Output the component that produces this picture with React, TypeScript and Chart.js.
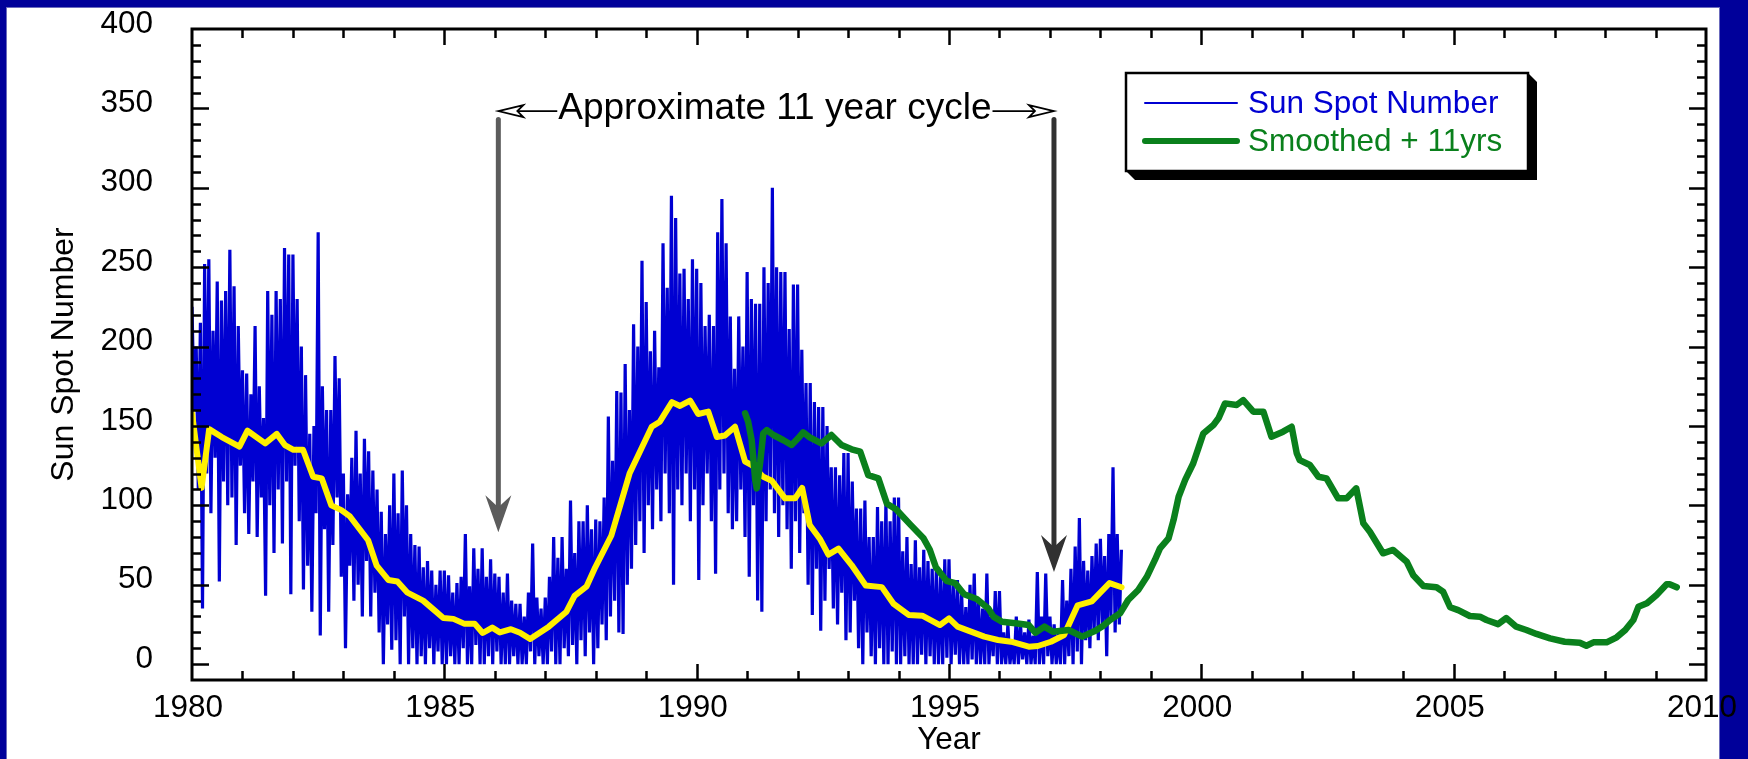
import React, { useEffect, useRef } from 'react';
import { Chart, registerables } from 'chart.js';

Chart.register(...registerables);

const FONT = '"Liberation Sans", Arial, Helvetica, sans-serif';

// ---- axes ----
const xTickYears = [1980, 1985, 1990, 1995, 2000, 2005, 2010];
const yTickValues = [0, 50, 100, 150, 200, 250, 300, 350, 400];

// ---- daily-ish sun spot number (24 samples per year, from 1980.0) ----
const sunSpotStartYear = 1980;
const sunSpotSamplesPerYear = 24;
const sunSpotValues = [
  225, 160, 200, 110, 215, 35, // 1980.00
  252, 120, 255, 95, 210, 130, // 1980.25
  241, 52, 229, 115, 235, 100, // 1980.50
  261, 105, 238, 75, 213, 125, // 1980.75
  185, 95, 183, 82, 170, 115, // 1981.00
  213, 80, 175, 105, 155, 43, // 1981.25
  235, 100, 220, 70, 235, 110, // 1981.50
  230, 76, 262, 115, 258, 44, // 1981.75
  258, 125, 230, 90, 200, 47, // 1982.00
  182, 62, 145, 33, 150, 95, // 1982.25
  272, 18, 175, 85, 160, 33, // 1982.50
  160, 75, 194, 105, 180, 55, // 1982.75
  120, 10, 107, 62, 130, 40, // 1983.00
  147, 50, 120, 30, 142, 65, // 1983.25
  134, 30, 122, 45, 110, 20, // 1983.50
  96, 0, 82, 25, 100, 9, // 1983.75
  120, 15, 95, 0, 122, 30, // 1984.00
  100, 0, 82, 10, 75, 0, // 1984.25
  74, 5, 61, 0, 65, 10, // 1984.50
  59, 0, 50, 8, 59, 0, // 1984.75
  59, 0, 56, 5, 45, 0, // 1985.00
  51, 0, 55, 10, 82, 0, // 1985.25
  49, 0, 73, 12, 60, 0, // 1985.50
  73, 0, 55, 5, 66, 0, // 1985.75
  57, 8, 55, 0, 45, 0, // 1986.00
  57, 0, 40, 5, 38, 0, // 1986.25
  38, 0, 30, 0, 45, 8, // 1986.50
  76, 0, 42, 5, 35, 0, // 1986.75
  42, 0, 55, 8, 80, 0, // 1987.00
  67, 0, 80, 10, 60, 5, // 1987.25
  103, 12, 70, 0, 90, 15, // 1987.50
  90, 5, 100, 20, 85, 0, // 1987.75
  91, 10, 90, 25, 105, 15, // 1988.00
  156, 30, 128, 40, 172, 20, // 1988.25
  171, 19, 189, 50, 160, 60, // 1988.50
  214, 75, 200, 90, 254, 70, // 1988.75
  228, 100, 197, 85, 210, 110, // 1989.00
  187, 90, 265, 120, 237, 95, // 1989.25
  295, 50, 281, 110, 246, 100, // 1989.50
  249, 120, 230, 90, 255, 110, // 1989.75
  249, 53, 240, 100, 213, 120, // 1990.00
  220, 90, 213, 57, 272, 110, // 1990.25
  293, 120, 265, 95, 219, 85, // 1990.50
  186, 90, 219, 110, 200, 80, // 1990.75
  247, 55, 230, 100, 227, 40, // 1991.00
  227, 33, 250, 90, 240, 110, // 1991.25
  300, 95, 250, 80, 247, 100, // 1991.50
  247, 85, 211, 60, 239, 90, // 1991.75
  239, 70, 198, 95, 177, 50, // 1992.00
  177, 31, 165, 60, 162, 21, // 1992.25
  162, 40, 150, 60, 124, 35, // 1992.50
  124, 25, 119, 45, 133, 15, // 1992.75
  133, 20, 115, 40, 98, 10, // 1993.00
  98, 0, 103, 20, 80, 5, // 1993.25
  80, 0, 99, 10, 90, 0, // 1993.50
  103, 0, 90, 8, 105, 0, // 1993.75
  105, 0, 71, 5, 80, 0, // 1994.00
  63, 0, 78, 0, 61, 6, // 1994.25
  72, 0, 65, 5, 60, 0, // 1994.50
  61, 0, 55, 0, 66, 4, // 1994.75
  66, 0, 50, 6, 53, 0, // 1995.00
  45, 0, 36, 0, 50, 3, // 1995.25
  57, 0, 40, 0, 35, 0, // 1995.50
  57, 0, 30, 5, 46, 0, // 1995.75
  46, 0, 20, 0, 25, 0, // 1996.00
  15, 0, 30, 0, 25, 3, // 1996.25
  20, 0, 28, 0, 18, 0, // 1996.50
  58, 0, 30, 0, 57, 5, // 1996.75
  30, 0, 25, 0, 20, 0, // 1997.00
  53, 0, 40, 5, 60, 0, // 1997.25
  74, 8, 92, 0, 65, 15, // 1997.50
  59, 10, 68, 20, 76, 15, // 1997.75
  79, 25, 68, 5, 82, 30, // 1998.00
  124, 20, 82, 25, 72, // 1998.25
];

// ---- smoothed (yellow) ----
const smoothedYears = [
  1980.0, 1980.19, 1980.34, 1980.59, 1980.94, 1981.1, 1981.45, 1981.68, 1981.84, 1982.01,
  1982.2, 1982.4, 1982.57, 1982.76, 1982.96, 1983.13, 1983.49, 1983.66, 1983.89, 1984.07,
  1984.27, 1984.58, 1984.8, 1984.98, 1985.18, 1985.39, 1985.6, 1985.76, 1985.95, 1986.1,
  1986.32, 1986.5, 1986.7, 1987.07, 1987.42, 1987.58, 1987.82, 1987.99, 1988.31, 1988.67,
  1989.11, 1989.27, 1989.51, 1989.67, 1989.87, 1990.03, 1990.23, 1990.4, 1990.56, 1990.76,
  1990.96, 1991.09, 1991.32, 1991.49, 1991.75, 1991.95, 1992.09, 1992.24, 1992.44, 1992.61,
  1992.81, 1993.07, 1993.35, 1993.67, 1993.9, 1994.2, 1994.47, 1994.82, 1995.0, 1995.17,
  1995.7, 1995.97, 1996.23, 1996.58, 1996.76, 1997.02, 1997.28, 1997.55, 1997.83, 1998.18,
  1998.42,
];
const smoothedValues = [
  158, 111, 148, 143, 137, 147, 139, 145, 138, 135,
  135, 118, 117, 100, 97, 93, 78, 62, 53, 52,
  45, 40, 34, 29, 28.5, 25.5, 25.5, 19.6, 23, 20,
  22, 19.8, 15.8, 23.6, 33, 43, 49, 61, 81, 120,
  149.5, 152.7, 165, 162.6, 166, 157.5, 159, 143, 144, 149.5,
  127.5, 125.4, 118, 115.5, 104.4, 104.4, 111, 87.6, 79, 69,
  72.7, 62.4, 49.5, 48.5, 38, 31, 30.5, 24.6, 28.8, 23.6,
  17.3, 15.2, 14.1, 11, 11.4, 14.1, 18.3, 37, 39.5, 51,
  48.4,
];

// ---- smoothed + 11 yrs (green) ----
const shiftedYears = [
  1990.96, 1991.02, 1991.09, 1991.16, 1991.19, 1991.26, 1991.32, 1991.39, 1991.52, 1991.72,
  1991.88, 1992.01, 1992.11, 1992.24, 1992.47, 1992.67, 1992.87, 1993.07, 1993.24, 1993.4,
  1993.6, 1993.77, 1993.95, 1994.23, 1994.49, 1994.62, 1994.74, 1994.95, 1995.12, 1995.3,
  1995.55, 1995.78, 1995.88, 1996.05, 1996.32, 1996.58, 1996.71, 1996.89, 1997.06, 1997.37,
  1997.64, 1997.9, 1998.05, 1998.19, 1998.39, 1998.55, 1998.75, 1998.92, 1999.08, 1999.18,
  1999.35, 1999.45, 1999.55, 1999.68, 1999.84, 1999.94, 2000.04, 2000.24, 2000.34, 2000.47,
  2000.7, 2000.83, 2001.03, 2001.23, 2001.39, 2001.62, 2001.79, 2001.89, 2001.95, 2002.15,
  2002.32, 2002.48, 2002.71, 2002.88, 2003.07, 2003.21, 2003.34, 2003.6, 2003.8, 2004.07,
  2004.2, 2004.4, 2004.66, 2004.79, 2004.93, 2005.09, 2005.32, 2005.52, 2005.65, 2005.88,
  2006.04, 2006.24, 2006.44, 2006.64, 2006.91, 2007.2, 2007.5, 2007.63, 2007.77, 2008.03,
  2008.23, 2008.4, 2008.56, 2008.66, 2008.83, 2009.02, 2009.22, 2009.28, 2009.42,
];
const shiftedValues = [
  158, 152.7, 141, 116, 110.7, 127.5, 145.3, 147.4, 144.3, 141,
  138, 142.2, 146, 142.8, 139, 144.3, 138, 135.3, 133.8, 119,
  117, 101, 97.5, 88, 79.5, 72, 61, 52.5, 51, 44,
  41, 35, 29.9, 26.7, 25.7, 24.6, 19.8, 23.6, 20.4, 21.5,
  17.3, 21, 24, 27.8, 32, 40.4, 46.7, 55, 65.6, 72.9,
  79.2, 90.8, 105.4, 116, 126.5, 135.9, 145.3, 150.6, 154.8, 164.2,
  163.2, 166.3, 159, 159, 143.2, 146.4, 149.5, 132.8, 128.5, 125.4,
  118, 117, 104.4, 104.4, 110.7, 88.7, 83.4, 69.8, 71.9, 64.5,
  56, 49.2, 48.4, 45.6, 35.8, 34, 30.3, 29.9, 27.8, 25.2,
  29, 23.6, 21.5, 19, 16.2, 14.1, 13.5, 11.6, 13.7, 13.7,
  16.9, 21.5, 27.8, 36.1, 38.3, 43.5, 50.3, 50.3, 48.4,
];

// ---- annotation (in data units) ----
const cycleArrowYears = [1986.07, 1997.08];
const cycleArrowTopValue = 343;
const cycleArrowTipValues = [83, 58];
const cycleArrowColors = ['#5c5c5c', '#313131'];
const cycleLabel = 'Approximate 11 year cycle';
const cycleLabelYear = 1991.55;
const cycleLabelValue = 343.3;

const BLUE = '#0000d2';
const YELLOW = '#fff000';
const GREEN = '#0a801c';

function drawDownArrow(ctx: CanvasRenderingContext2D, x: number, yTop: number, yTip: number, color: string) {
  ctx.save();
  ctx.strokeStyle = color;
  ctx.fillStyle = color;
  ctx.lineWidth = 5;
  ctx.lineCap = 'round';
  ctx.beginPath();
  ctx.moveTo(x, yTop);
  ctx.lineTo(x, yTip - 24);
  ctx.stroke();
  ctx.beginPath();
  ctx.moveTo(x, yTip);
  ctx.lineTo(x - 13, yTip - 37);
  ctx.lineTo(x, yTip - 25);
  ctx.lineTo(x + 13, yTip - 37);
  ctx.closePath();
  ctx.fill();
  ctx.restore();
}

function drawOpenHead(ctx: CanvasRenderingContext2D, tipX: number, y: number, dir: number) {
  // dir = -1 points left, +1 points right
  const back = tipX - dir * 25;
  const notch = tipX - dir * 19;
  ctx.beginPath();
  ctx.moveTo(tipX, y);
  ctx.lineTo(back, y - 6);
  ctx.lineTo(notch, y);
  ctx.lineTo(back, y + 6);
  ctx.closePath();
  ctx.fillStyle = '#ffffff';
  ctx.fill();
  ctx.stroke();
}

const decorPlugin = {
  id: 'decor',
  beforeDraw(chart: any) {
    const ctx: CanvasRenderingContext2D = chart.ctx;
    const W = chart.width;
    const H = chart.height;
    ctx.save();
    ctx.fillStyle = '#ffffff';
    ctx.fillRect(0, 0, W, H);
    ctx.fillStyle = '#00009a';
    ctx.fillRect(0, 0, W, 7);
    ctx.fillRect(0, 0, 6, H);
    ctx.fillRect(1720, 0, W - 1720, H);
    ctx.fillStyle = '#6b6bbd';
    ctx.fillRect(6, 7, 1, H - 7);
    ctx.fillRect(6, 7, 1714, 1);
    ctx.fillRect(1719, 7, 1, H - 7);
    ctx.restore();
  },
  afterDatasetsDraw(chart: any) {
    const ctx: CanvasRenderingContext2D = chart.ctx;
    const { left, right, top, bottom } = chart.chartArea;
    const xs = chart.scales.x;
    const ys = chart.scales.y;
    ctx.save();
    // frame
    ctx.strokeStyle = '#000000';
    ctx.lineWidth = 3;
    ctx.strokeRect(left, top, right - left, bottom - top);
    // inward ticks on all four sides
    ctx.lineWidth = 2.5;
    ctx.beginPath();
    for (let v = 0; v < 400; v += 10) {
      const py = Math.round(ys.getPixelForValue(v)) + 0.5;
      const len = v % 50 === 0 ? 17 : 9;
      ctx.moveTo(left, py);
      ctx.lineTo(left + len, py);
      ctx.moveTo(right, py);
      ctx.lineTo(right - len, py);
    }
    for (let yr = xTickYears[0] + 1; yr < xTickYears[xTickYears.length - 1]; yr++) {
      const px = Math.round(xs.getPixelForValue(yr)) + 0.5;
      const len = yr % 5 === 0 ? 16 : 9;
      ctx.moveTo(px, bottom);
      ctx.lineTo(px, bottom - len);
      ctx.moveTo(px, top);
      ctx.lineTo(px, top + len);
    }
    ctx.stroke();

    // vertical cycle arrows
    const yTop = ys.getPixelForValue(cycleArrowTopValue);
    const arrowX = cycleArrowYears.map((yr) => xs.getPixelForValue(yr));
    cycleArrowYears.forEach((yr, i) => {
      drawDownArrow(ctx, arrowX[i], yTop, ys.getPixelForValue(cycleArrowTipValues[i]), cycleArrowColors[i]);
    });

    // cycle label with open arrows
    ctx.font = `37px ${FONT}`;
    ctx.fillStyle = '#000000';
    ctx.textBaseline = 'alphabetic';
    ctx.textAlign = 'center';
    const cx = xs.getPixelForValue(cycleLabelYear);
    const base = ys.getPixelForValue(cycleLabelValue);
    ctx.fillText(cycleLabel, cx, base);
    const tw = ctx.measureText(cycleLabel).width;
    const ay = base - 8;
    ctx.strokeStyle = '#000000';
    ctx.lineWidth = 1.8;
    ctx.lineJoin = 'miter';
    ctx.beginPath();
    ctx.moveTo(arrowX[0] + 19, ay);
    ctx.lineTo(cx - tw / 2 - 1, ay);
    ctx.moveTo(cx + tw / 2 + 1, ay);
    ctx.lineTo(arrowX[1] - 19, ay);
    ctx.stroke();
    drawOpenHead(ctx, arrowX[0], ay, -1);
    drawOpenHead(ctx, arrowX[1], ay, 1);
    ctx.restore();
  },
  afterDraw(chart: any) {
    const ctx: CanvasRenderingContext2D = chart.ctx;
    const { right, top } = chart.chartArea;
    const lx = right - 580;
    const ly = top + 44;
    const lw = 402;
    const lh = 98;
    const sh = 9;
    ctx.save();
    ctx.fillStyle = '#000000';
    ctx.beginPath();
    ctx.moveTo(lx + lw, ly);
    ctx.lineTo(lx + lw + sh, ly + sh);
    ctx.lineTo(lx + lw + sh, ly + lh + sh);
    ctx.lineTo(lx + sh, ly + lh + sh);
    ctx.lineTo(lx, ly + lh);
    ctx.closePath();
    ctx.fill();
    ctx.fillStyle = '#ffffff';
    ctx.fillRect(lx, ly, lw, lh);
    ctx.strokeStyle = '#000000';
    ctx.lineWidth = 2.5;
    ctx.strokeRect(lx, ly, lw, lh);

    const items = chart.data.datasets.filter((d: any) => d.inLegend);
    items.forEach((d: any, i: number) => {
      const yy = ly + 30 + i * 38;
      ctx.strokeStyle = d.borderColor;
      ctx.lineWidth = d.legendWidth;
      ctx.lineCap = 'round';
      ctx.beginPath();
      ctx.moveTo(lx + 19, yy);
      ctx.lineTo(lx + 111, yy);
      ctx.stroke();
      ctx.fillStyle = d.borderColor;
      ctx.font = `31.5px ${FONT}`;
      ctx.textAlign = 'left';
      ctx.textBaseline = 'middle';
      ctx.fillText(d.label, lx + 122, yy + 1);
    });
    ctx.restore();
  },
};

export default function App() {
  const ref = useRef<HTMLCanvasElement>(null);

  useEffect(() => {
    if (!ref.current) return;
    const blueData = sunSpotValues.map((v, i) => ({ x: sunSpotStartYear + i / sunSpotSamplesPerYear, y: v }));
    const yellowData = smoothedValues.map((v, i) => ({ x: smoothedYears[i], y: v }));
    const greenData = shiftedValues.map((v, i) => ({ x: shiftedYears[i], y: v }));

    const chart = new Chart(ref.current, {
      type: 'line',
      data: {
        datasets: [
          {
            label: 'Sun Spot Number',
            data: blueData,
            borderColor: BLUE,
            borderWidth: 3.2,
            borderJoinStyle: 'bevel',
            pointRadius: 0,
            tension: 0,
            order: 3,
            inLegend: true,
            legendWidth: 2,
          } as any,
          {
            label: 'Smoothed',
            data: yellowData,
            borderColor: YELLOW,
            borderWidth: 6,
            borderJoinStyle: 'round',
            borderCapStyle: 'round',
            pointRadius: 0,
            tension: 0,
            order: 2,
          } as any,
          {
            label: 'Smoothed + 11yrs',
            data: greenData,
            borderColor: GREEN,
            borderWidth: 6.5,
            borderJoinStyle: 'round',
            borderCapStyle: 'round',
            pointRadius: 0,
            tension: 0,
            order: 1,
            inLegend: true,
            legendWidth: 6,
          } as any,
        ],
      },
      options: {
        animation: false,
        responsive: false,
        maintainAspectRatio: false,
        devicePixelRatio: 1,
        events: [],
        layout: { padding: { left: 0, top: 29, right: 42, bottom: 0 } },
        plugins: {
          legend: { display: false },
          tooltip: { enabled: false },
          title: { display: false },
        },
        scales: {
          x: {
            type: 'linear',
            min: 1980,
            max: 2010,
            grid: { display: false, drawTicks: false },
            border: { display: false },
            ticks: {
              font: { family: FONT, size: 31.5 },
              color: '#000000',
              padding: 9,
              labelOffset: -4,
              maxRotation: 0,
              autoSkip: false,
              callback: (v: any) => String(v),
            },
            afterBuildTicks: (s: any) => {
              s.ticks = xTickYears.map((v) => ({ value: v }));
            },
            afterFit: (s: any) => {
              s.height = 79;
              s.paddingLeft = 0;
              s.paddingRight = 0;
            },
            title: {
              display: true,
              text: 'Year',
              color: '#000000',
              font: { family: FONT, size: 31.5 },
              padding: { top: 0, bottom: 0 },
            },
          },
          y: {
            type: 'linear',
            min: -10,
            max: 400,
            grid: { display: false, drawTicks: false },
            border: { display: false },
            ticks: {
              font: { family: FONT, size: 31.5 },
              color: '#000000',
              padding: 39,
              labelOffset: -5,
              autoSkip: false,
              callback: (v: any) => String(v),
            },
            afterBuildTicks: (s: any) => {
              s.ticks = yTickValues.map((v) => ({ value: v }));
            },
            afterFit: (s: any) => {
              s.width = 192;
              s.paddingTop = 0;
              s.paddingBottom = 0;
            },
            title: {
              display: true,
              text: 'Sun Spot Number',
              color: '#000000',
              font: { family: FONT, size: 32 },
              padding: { top: 45, bottom: 0 },
            },
          },
        },
      } as any,
      plugins: [decorPlugin],
    });
    return () => chart.destroy();
  }, []);

  return (
    <div style={{ position: 'fixed', left: 0, top: 0, width: 1748, height: 759 }}>
      <canvas ref={ref} width={1748} height={759} style={{ display: 'block', width: 1748, height: 759 }} />
    </div>
  );
}
